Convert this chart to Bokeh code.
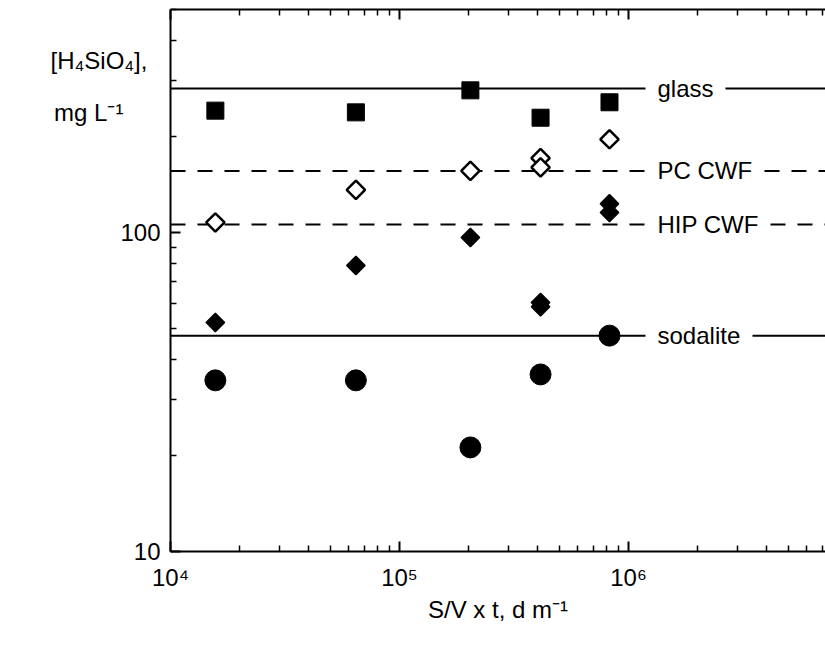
from bokeh.plotting import figure
from bokeh.models import Range1d, LogAxis, FixedTicker, PrintfTickFormatter
from bokeh.core.properties import value
from bokeh.embed import file_html
from bokeh.resources import INLINE
import math

# ---------------- data ----------------
sv_t = [1.57e4, 6.45e4, 2.04e5, 4.13e5, 8.26e5]
glass = [241, 238, 279, 229, 256]
pc_cwf_x = [1.57e4, 6.45e4, 2.04e5, 4.13e5, 4.13e5, 8.26e5]
pc_cwf = [107.5, 136, 156, 171, 160, 196]
hip_cwf_x = [1.57e4, 6.45e4, 2.04e5, 4.13e5, 4.13e5, 8.26e5, 8.26e5]
hip_cwf = [52.2, 78.8, 96.4, 60.3, 58.5, 123, 115.6]
sodalite = [34.4, 34.4, 21.2, 35.9, 47.5]
ref_names = ["glass", "PC CWF", "HIP CWF", "sodalite"]
ref_levels = [283, 156, 106, 47.5]
ref_dashed = [False, True, True, False]
x_major = [1e4, 1e5, 1e6, 1e7]
x_labels = {1e4: "10\u2074", 1e5: "10\u2075", 1e6: "10\u2076", 1e7: "10\u2077"}
y_major = [10, 100]
x_minor = [k * 10 ** n for n in (4, 5, 6) for k in range(2, 10)]
y_minor = [k * 10 ** n for n in (1, 2) for k in range(2, 10)]
x_title = "S/V x t, d m\u207b\u00b9"
y_title_lines = ["[H\u2084SiO\u2084],", "mg L\u207b\u00b9\u2002\u2002"]

FONT = "Liberation Sans"
FL, FR, FT, FB = 170, 825, 9, 551
X0, XDEC = 1e4, 229.0
Y0, YDEC = 10.0, 319.0

def X(px):
    return X0 * 10 ** ((px - FL) / XDEC)

def Y(py):
    return Y0 * 10 ** ((FB - py) / YDEC)

XMAX = X(FR)
p = figure(width=825, height=647, x_axis_type="log", y_axis_type="log",
           x_range=Range1d(X0, XMAX), y_range=Range1d(Y0, Y(FT)),
           output_backend="svg", toolbar_location=None,
           min_border_left=FL, min_border_right=0, min_border_top=FT,
           min_border_bottom=647 - FB)
p.outline_line_color = None
p.xgrid.visible = False
p.ygrid.visible = False
p.background_fill_color = "white"
p.border_fill_color = "white"

def style_axis(ax, labels=True):
    ax.axis_line_width = 2
    ax.axis_line_color = "black"
    ax.major_tick_in = 10
    ax.major_tick_out = 0
    ax.minor_tick_in = 6
    ax.minor_tick_out = 0
    ax.major_tick_line_width = 2
    ax.minor_tick_line_width = 1.5
    ax.major_tick_line_color = "black"
    ax.minor_tick_line_color = "black"
    ax.major_label_text_font = FONT
    ax.major_label_text_color = "black"
    ax.axis_label_text_font = FONT
    ax.axis_label_text_font_size = "24px"
    ax.axis_label_text_font_style = "normal"
    ax.axis_label_text_color = "black"
    if labels:
        ax.major_label_text_font_size = "24px"
    else:
        ax.major_label_text_font_size = "1px"
        ax.major_label_text_alpha = 0
        ax.major_label_standoff = 0

xt = FixedTicker(ticks=x_major, minor_ticks=x_minor)
yt = FixedTicker(ticks=y_major, minor_ticks=y_minor)
xax = p.xaxis[0]
yax = p.yaxis[0]
xax.ticker = xt
yax.ticker = yt
xax.major_label_overrides = x_labels
yax.formatter = PrintfTickFormatter(format="%d")
style_axis(xax)
style_axis(yax)
xax.major_label_standoff = 12
yax.major_label_standoff = 10

xax.axis_label = x_title
xax.axis_label_standoff = 2

# horizontal y title at the top-left (leading blank lines push it down)
yax.axis_label = "\n\n\n" + "\n".join(y_title_lines)
props = yax.properties()
if "axis_label_orientation" in props:
    yax.axis_label_orientation = "horizontal"
if "axis_label_align" in props:
    yax.axis_label_align = "end"
yax.axis_label_standoff = -30
yax.axis_label_text_line_height = 1.9

top = LogAxis(ticker=xt)
style_axis(top, labels=False)
p.add_layout(top, "above")

# reference levels: line pieces left and right of the label text
TEXT_X = 657
gap_end = {"glass": 725, "PC CWF": 764, "HIP CWF": 770, "sodalite": 752}
for name, lvl, dashed in zip(ref_names, ref_levels, ref_dashed):
    p.segment(x0=[X0, X(gap_end[name])], y0=[lvl, lvl],
              x1=[X(645), XMAX], y1=[lvl, lvl], line_color="black",
              line_width=2, line_dash="15 12" if dashed else "solid")
p.text(x=[X(TEXT_X)] * len(ref_names), y=ref_levels, text=ref_names,
       text_font=value(FONT), text_font_size="24px", text_baseline="middle",
       text_align="left", text_color="black")

# data
p.scatter(sv_t, glass, marker="square", size=17, color="black")
p.scatter(pc_cwf_x, pc_cwf, marker="square", angle=math.pi / 4, size=13,
          fill_color="white", line_color="black", line_width=2.5)
p.scatter(hip_cwf_x, hip_cwf, marker="square", angle=math.pi / 4, size=13,
          fill_color="black", line_color="black", line_width=1.5)
p.scatter(sv_t, sodalite, marker="circle", size=21, color="black")

open("out.html", "w").write(file_html(p, INLINE))
